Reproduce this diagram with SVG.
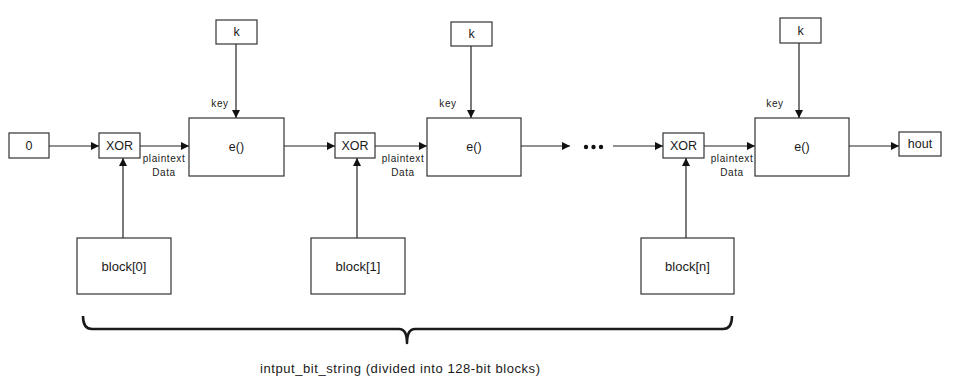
<svg xmlns="http://www.w3.org/2000/svg" width="960" height="381" viewBox="0 0 960 381">
<style>
.box{fill:#fff;stroke:#333;stroke-width:1.2}
.t{font-family:"Liberation Sans",Arial,sans-serif;font-size:12.5px;fill:#1a1a1a;text-anchor:middle}
.s{font-family:"Liberation Sans",Arial,sans-serif;font-size:10px;letter-spacing:0.6px;fill:#1a1a1a;text-anchor:middle}
.ln{stroke:#222;stroke-width:1.2;fill:none}
</style>
<defs>
<marker id="ah" viewBox="0 0 10 10" refX="10" refY="5" markerWidth="8" markerHeight="8" markerUnits="userSpaceOnUse" orient="auto">
<path d="M0,0 L10,5 L0,10 Z" fill="#111"/>
</marker>
</defs>
<rect width="960" height="381" fill="#fff"/>
<g id="connectors">
<line class="ln" x1="49" y1="146" x2="99" y2="146" marker-end="url(#ah)"/>
<line class="ln" x1="140" y1="146" x2="189" y2="146" marker-end="url(#ah)"/>
<line class="ln" x1="236" y1="44" x2="236" y2="118" marker-end="url(#ah)"/>
<line class="ln" x1="123" y1="238" x2="123" y2="158" marker-end="url(#ah)"/>
<line class="ln" x1="284" y1="146" x2="335" y2="146" marker-end="url(#ah)"/>
<line class="ln" x1="375" y1="146" x2="427" y2="146" marker-end="url(#ah)"/>
<line class="ln" x1="471" y1="46" x2="471" y2="118" marker-end="url(#ah)"/>
<line class="ln" x1="357" y1="238" x2="357" y2="158" marker-end="url(#ah)"/>
<line class="ln" x1="521" y1="146" x2="570" y2="146" marker-end="url(#ah)"/>
<line class="ln" x1="613" y1="146" x2="663" y2="146" marker-end="url(#ah)"/>
<line class="ln" x1="704" y1="146" x2="755" y2="146" marker-end="url(#ah)"/>
<line class="ln" x1="799" y1="43" x2="799" y2="118" marker-end="url(#ah)"/>
<line class="ln" x1="686" y1="238" x2="686" y2="158" marker-end="url(#ah)"/>
<line class="ln" x1="849" y1="146" x2="899" y2="146" marker-end="url(#ah)"/>
</g>
<g id="labels">
<text class="s" x="220" y="107">key</text>
<text class="s" x="164" y="162">plaintext</text>
<text class="s" x="164" y="176">Data</text>
<text class="s" x="448" y="107">key</text>
<text class="s" x="403" y="162">plaintext</text>
<text class="s" x="403" y="176">Data</text>
<text class="s" x="775" y="107">key</text>
<text class="s" x="732" y="162">plaintext</text>
<text class="s" x="732" y="176">Data</text>
</g>
<g id="dots" fill="#111">
<circle cx="586" cy="147" r="2.2"/>
<circle cx="593.5" cy="147" r="2.2"/>
<circle cx="601" cy="147" r="2.2"/>
</g>
<g id="n_zero"><rect class="box" x="9" y="133" width="40" height="25"/><text class="t" x="29" y="150">0</text></g>
<g id="n_xor0"><rect class="box" x="99" y="133" width="41" height="25"/><text class="t" x="119.5" y="150">XOR</text></g>
<g id="n_e0"><rect class="box" x="189" y="118" width="95" height="58"/><text class="t" x="236.5" y="151">e()</text></g>
<g id="n_k0"><rect class="box" x="216" y="20" width="41" height="24"/><text class="t" x="236.5" y="36">k</text></g>
<g id="n_block0"><rect class="box" x="77" y="238" width="94" height="56"/><text class="t" x="124" y="271" style="font-size:13px">block[0]</text></g>
<g id="n_xor1"><rect class="box" x="335" y="133" width="40" height="25"/><text class="t" x="355" y="150">XOR</text></g>
<g id="n_e1"><rect class="box" x="427" y="118" width="94" height="58"/><text class="t" x="474" y="151">e()</text></g>
<g id="n_k1"><rect class="box" x="451" y="22" width="41" height="24"/><text class="t" x="471.5" y="38">k</text></g>
<g id="n_block1"><rect class="box" x="311" y="238" width="94" height="56"/><text class="t" x="358" y="271" style="font-size:13px">block[1]</text></g>
<g id="n_xorn"><rect class="box" x="663" y="133" width="41" height="25"/><text class="t" x="683.5" y="150">XOR</text></g>
<g id="n_en"><rect class="box" x="755" y="118" width="94" height="58"/><text class="t" x="802" y="151">e()</text></g>
<g id="n_kn"><rect class="box" x="780" y="18" width="41" height="25"/><text class="t" x="800.5" y="35">k</text></g>
<g id="n_blockn"><rect class="box" x="641" y="238" width="93" height="56"/><text class="t" x="687.5" y="271" style="font-size:13px">block[n]</text></g>
<g id="n_hout"><rect class="box" x="899" y="132" width="42" height="24"/><text class="t" x="920" y="148">hout</text></g>
<g id="brace">
<path d="M83,316 Q83,329 92,329 L399,329 Q407,329 407,343 Q407,329 415,329 L723,329 Q732,329 732,316" fill="none" stroke="#1a1a1a" stroke-width="2.6" stroke-linejoin="round"/>
<text class="t" x="400" y="373" style="font-size:13px" textLength="280" lengthAdjust="spacing">intput_bit_string (divided into 128-bit blocks)</text>
</g>
</svg>
